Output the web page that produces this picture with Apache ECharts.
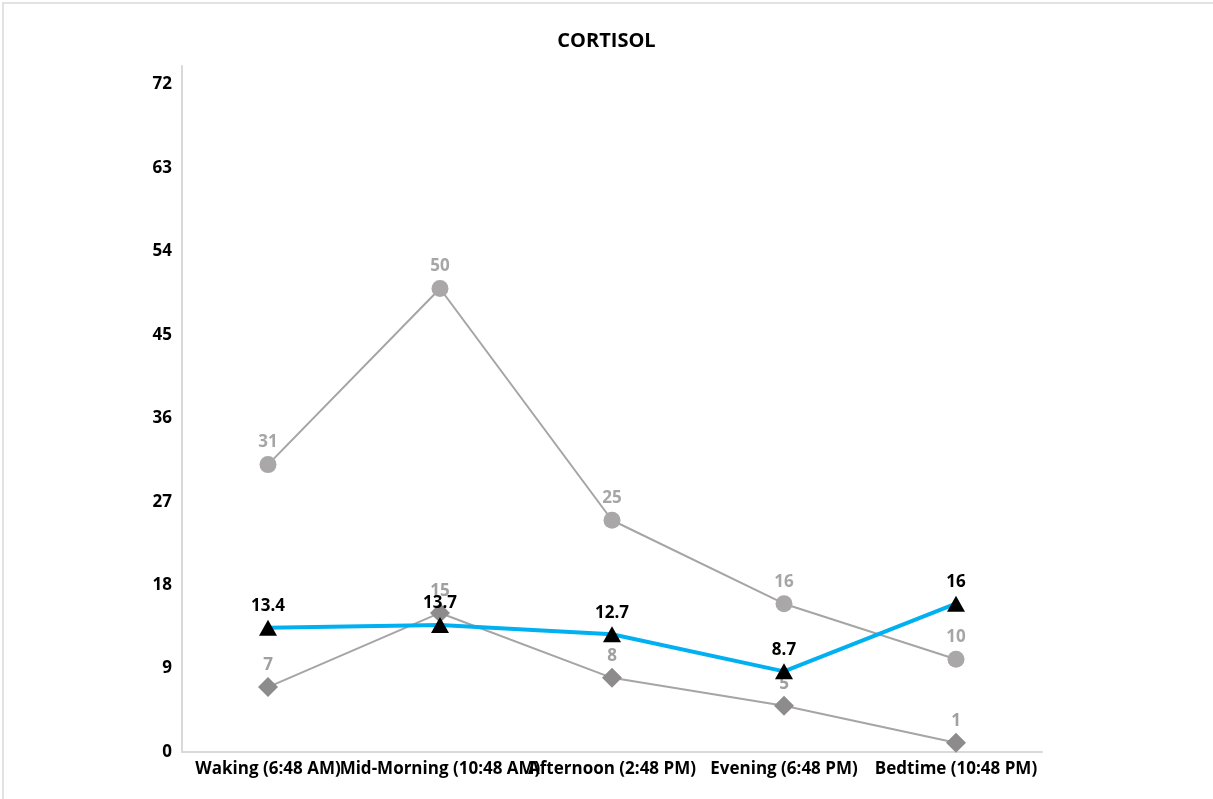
<!DOCTYPE html>
<html>
<head>
<meta charset="utf-8">
<script src="https://cdn.jsdelivr.net/npm/echarts@6/dist/echarts.min.js"></script>
<style>
  html, body { margin: 0; padding: 0; background: #ffffff; }
  #chart { width: 1213px; height: 799px; }
</style>
</head>
<body>
<div id="chart"></div>
<script>
// Cortisol readings across the day
const categories = [
  'Waking (6:48 AM)',
  'Mid-Morning (10:48 AM)',
  'Afternoon (2:48 PM)',
  'Evening (6:48 PM)',
  'Bedtime (10:48 PM)'
];
const upperRange = [31, 50, 25, 16, 10];
const lowerRange = [7, 15, 8, 5, 1];
const measured = [13.4, 13.7, 12.7, 8.7, 16];
const yTicks = [0, 9, 18, 27, 36, 45, 54, 63, 72];

const FONT = '"Open Sans", "Noto Sans", sans-serif';
const LABEL_SIZE = 17;

const chart = echarts.init(document.getElementById('chart'));

chart.setOption({
  animation: false,
  backgroundColor: '#ffffff',
  textStyle: { fontFamily: FONT },
  graphic: [{
    type: 'rect',
    silent: true,
    shape: { x: 3, y: 3, width: 1400, height: 1000 },
    style: { fill: 'none', stroke: '#d9d9d9', lineWidth: 1.5 }
  }],
  title: {
    text: 'CORTISOL',
    left: 'center',
    top: 26,
    textStyle: { fontFamily: FONT, fontWeight: 'bold', fontSize: 20, color: '#000000' }
  },
  grid: { left: 182, right: 171, top: 66, bottom: 47, containLabel: false },
  xAxis: {
    type: 'category',
    data: categories,
    boundaryGap: true,
    axisLine: { lineStyle: { color: '#d9d9d9', width: 2 } },
    axisTick: { show: false },
    axisLabel: {
      interval: 0,
      hideOverlap: false,
      margin: 9,
      color: '#000000',
      fontFamily: FONT,
      fontWeight: 'bold',
      fontSize: LABEL_SIZE
    },
    splitLine: { show: false }
  },
  yAxis: {
    type: 'value',
    min: 0,
    max: 74,
    interval: 9,
    axisLine: { show: true, lineStyle: { color: '#d9d9d9', width: 2 } },
    axisTick: { show: false },
    splitLine: { show: false },
    axisLabel: {
      margin: 10,
      padding: [0, 0, 5, 0],
      color: '#000000',
      fontFamily: FONT,
      fontWeight: 'bold',
      fontSize: LABEL_SIZE,
      formatter: v => (yTicks.indexOf(v) >= 0 ? String(v) : '')
    }
  },
  series: [
    {
      name: 'Upper',
      type: 'line',
      data: upperRange,
      symbol: 'circle',
      symbolSize: 17,
      lineStyle: { color: '#a5a5a5', width: 2 },
      itemStyle: { color: '#a9a7a8' },
      label: {
        show: true,
        position: 'top',
        distance: 5,
        color: '#a6a6a6',
        fontFamily: FONT,
        fontWeight: 'bold',
        fontSize: LABEL_SIZE
      },
      z: 2
    },
    {
      name: 'Lower',
      type: 'line',
      data: lowerRange,
      symbol: 'diamond',
      symbolSize: 20,
      lineStyle: { color: '#a5a5a5', width: 2 },
      itemStyle: { color: '#8e8b8c' },
      label: {
        show: true,
        position: 'top',
        distance: 3,
        color: '#a0a0a0',
        fontFamily: FONT,
        fontWeight: 'bold',
        fontSize: LABEL_SIZE
      },
      z: 3
    },
    {
      name: 'Cortisol',
      type: 'line',
      data: measured,
      symbol: 'triangle',
      symbolSize: [18, 16],
      lineStyle: { color: '#00b0f0', width: 4 },
      itemStyle: { color: '#000000' },
      label: {
        show: true,
        position: 'top',
        distance: 5,
        color: '#000000',
        fontFamily: FONT,
        fontWeight: 'bold',
        fontSize: LABEL_SIZE
      },
      z: 4
    }
  ]
});
</script>
</body>
</html>
